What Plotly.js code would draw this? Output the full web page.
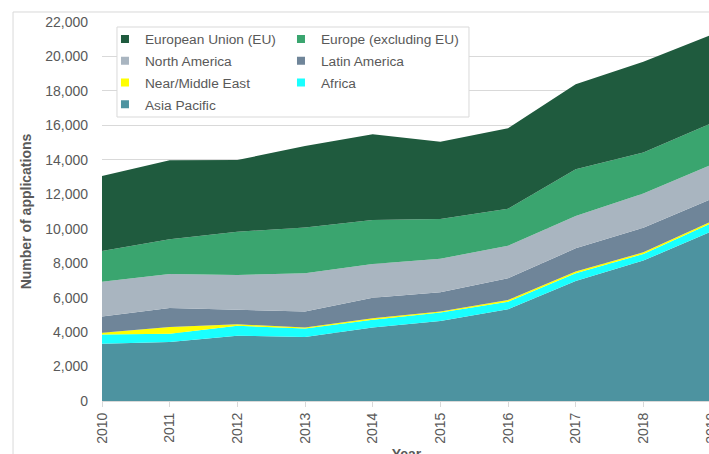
<!DOCTYPE html>
<html>
<head>
<meta charset="utf-8">
<script src="https://cdn.plot.ly/plotly-3.0.1.min.js"></script>
<style>
html, body { margin: 0; padding: 0; overflow: hidden; background: #ffffff; }
#chart { width: 712px; height: 470px; }
</style>
</head>
<body>
<div id="chart"></div>
<script>
// ---- Data ----
const years = [2010, 2011, 2012, 2013, 2014, 2015, 2016, 2017, 2018, 2019];
const asiaPacific    = [3330, 3420, 3790, 3720, 4270, 4640, 5320, 6970, 8150, 9830];
const africa         = [530, 490, 580, 490, 450, 490, 445, 445, 385, 485];
const nearMiddleEast = [106, 380, 80, 60, 80, 60, 100, 95, 95, 95];
const latinAmerica   = [934, 1110, 840, 930, 1200, 1120, 1260, 1350, 1430, 1300];
const northAmerica   = [2020, 1970, 2024, 2213, 1950, 1950, 1880, 1880, 1990, 1990];
const europeExEU     = [1790, 2020, 2516, 2657, 2550, 2300, 2150, 2710, 2380, 2420];
const europeanUnion  = [4350, 4590, 4160, 4730, 4990, 4490, 4680, 4935, 5260, 5130];

const seriesNames = ["Asia Pacific", "Africa", "Near/Middle East", "Latin America",
                     "North America", "Europe (excluding EU)", "European Union (EU)"];
const seriesValues = [asiaPacific, africa, nearMiddleEast, latinAmerica,
                      northAmerica, europeExEU, europeanUnion];
const seriesColors = ["#4d93a0", "#19ffff", "#ffff00", "#6f8599",
                      "#a9b5c0", "#3aa56f", "#1f5b3e"];

// Legend arrangement (two columns, as in the reference)
const legendCol1 = ["European Union (EU)", "North America", "Near/Middle East", "Asia Pacific"];
const legendCol2 = ["Europe (excluding EU)", "Latin America", "Africa"];

const yTicks = [0, 2000, 4000, 6000, 8000, 10000, 12000, 14000, 16000, 18000, 20000, 22000];

const traces = [];
seriesNames.forEach((name, i) => {
  traces.push({
    x: years, y: seriesValues[i], name: name,
    type: 'scatter', mode: 'lines', stackgroup: 'one',
    line: { width: 0, color: seriesColors[i] },
    fillcolor: seriesColors[i],
    showlegend: false, hoverinfo: 'x+y+name'
  });
});
// legend entries (square swatches)
legendCol1.concat(legendCol2).forEach(name => {
  const i = seriesNames.indexOf(name);
  traces.push({
    x: [null], y: [null], name: name, type: 'scatter', mode: 'markers',
    marker: { symbol: 'square', size: 8, color: seriesColors[i] },
    legend: legendCol1.includes(name) ? 'legend' : 'legend2',
    legendgroup: 'g' + i,
    showlegend: true, hoverinfo: 'skip'
  });
});

const gray = '#595959';
const font = 'Liberation Sans, Arial, sans-serif';

const legendBase = {
  y: 0.996, yanchor: 'top', xanchor: 'left',
  orientation: 'v', traceorder: 'grouped', tracegroupgap: 1,
  bgcolor: 'rgba(0,0,0,0)', borderwidth: 0,
  font: { size: 13.7, color: gray, family: font }
};

const layout = {
  width: 712, height: 470,
  margin: { l: 102, r: 1, t: 22, b: 69 },
  paper_bgcolor: '#ffffff', plot_bgcolor: '#ffffff',
  font: { family: font, size: 14, color: gray },
  showlegend: true,
  xaxis: {
    range: [2010, 2019], tickvals: years, ticktext: years.map(String),
    tickangle: -90, ticks: 'outside', ticklen: 5, tickcolor: '#d9d9d9',
    ticklabeloverflow: 'allow',
    showgrid: false, zeroline: false, showline: true, linecolor: '#d9d9d9',
    tickfont: { size: 14, color: gray, family: font },
    title: { text: 'Year', font: { size: 14, color: gray, family: font, weight: 'bold' }, standoff: 6 },
    fixedrange: true
  },
  yaxis: {
    range: [0, 22000], tickvals: yTicks, tickformat: ',d',
    showgrid: true, gridcolor: '#d9d9d9', gridwidth: 1, zeroline: false,
    showline: false, ticks: '', ticklabelstandoff: 13,
    tickfont: { size: 14, color: gray, family: font },
    title: { text: 'Number of applications', font: { size: 14, color: gray, family: font, weight: 'bold' }, standoff: 10 },
    fixedrange: true
  },
  legend: Object.assign({}, legendBase, { x: 0.0049 }),
  legend2: Object.assign({}, legendBase, { x: 0.2939 }),
  shapes: [
    // outer chart frame (left & top edges visible)
    { type: 'rect', xref: 'paper', yref: 'paper', x0: -0.1461, x1: 1.2, y0: -0.5, y1: 1.0264,
      line: { color: '#d9d9d9', width: 1 }, fillcolor: 'rgba(0,0,0,0)', layer: 'below' },
    // legend box
    { type: 'rect', xref: 'paper', yref: 'paper', x0: 0.0246, x1: 0.6026, y0: 0.7493, y1: 0.9868,
      line: { color: '#d9d9d9', width: 1 }, fillcolor: '#ffffff', layer: 'above' }
  ]
};

Plotly.newPlot('chart', traces, layout, { displayModeBar: false, staticPlot: true });
</script>
</body>
</html>
